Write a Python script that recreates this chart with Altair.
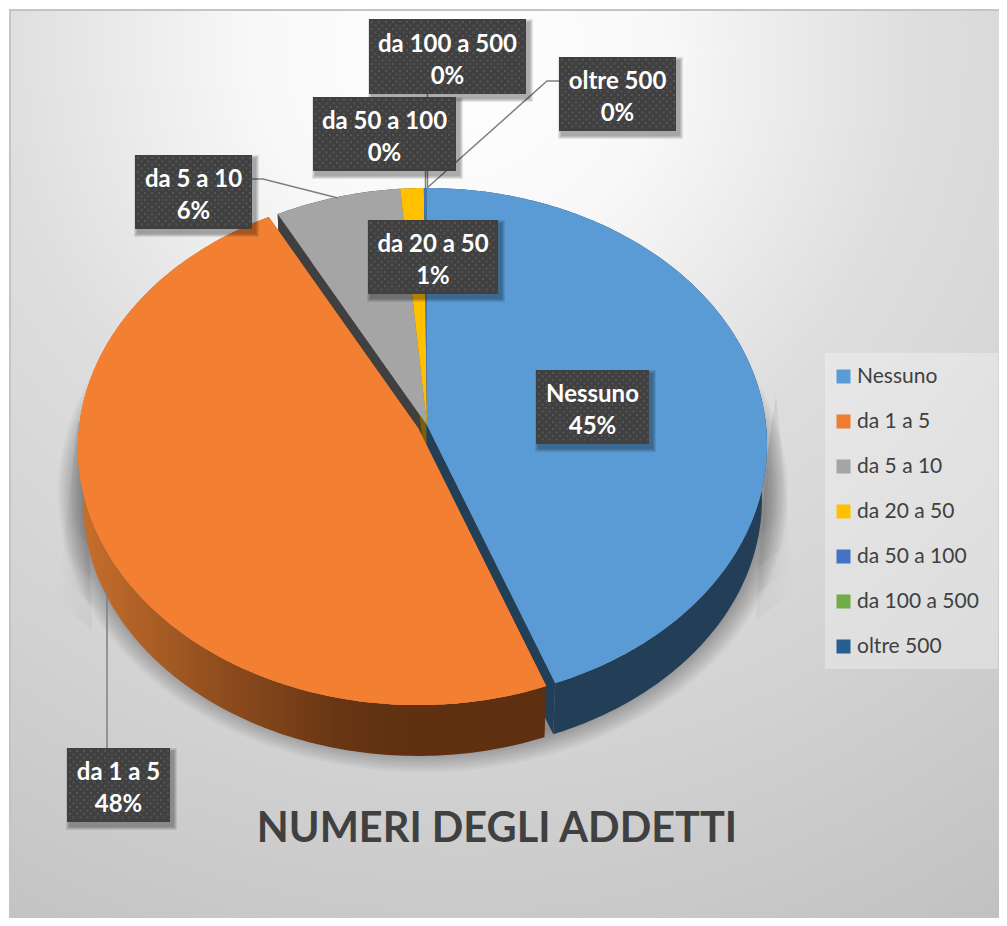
import math
import altair as alt

# --- chart values
categories = ["Nessuno", "da 1 a 5", "da 5 a 10", "da 20 a 50", "da 50 a 100", "da 100 a 500", "oltre 500"]
shares = [44.3, 47.9, 6.44, 1.2, 0.14, 0.01, 0.01]
legend_colors = ["#5B9BD5", "#ED7D31", "#A5A5A5", "#FFC000", "#4472C4", "#70AD47", "#255E91"]
wall_colors = ["#233F58", "#5F3110", "#404040", "#7F6000", "#2A4478", "#44692B", "#153A5A"]
percent_labels = ["45%", "48%", "6%", "1%", "0%", "0%", "0%"]
title_text = "NUMERI DEGLI ADDETTI"

# --- layout, in page pixels
FONT = "Lato"
AX, AY = 427, 425          # pie apex
RX, RY, TILT = 339, 255.5, 0.0779
DEPTH, BOTTOM_SCALE = 55, 0.985
EXPLODE = {"da 1 a 5": (-9, 3)}
boxes = {
    "Nessuno": (536, 370, 649, 444),
    "da 1 a 5": (67, 748, 170, 822),
    "da 5 a 10": (135, 155, 252, 229),
    "da 20 a 50": (368, 220, 498, 294),
    "da 50 a 100": (313, 97, 456, 171),
    "da 100 a 500": (369, 19, 526, 94),
    "oltre 500": (559, 57, 676, 131),
}
leaders = [
    [(559, 81), (547, 81), (427, 188)],
    [(252, 179), (263, 179), (338, 198)],
    [(425.5, 171), (425.5, 188)],
    [(427.5, 94), (427.5, 188)],
    [(107, 748), (107, 588)],
]


def feature(points, **props):
    ring = [list(p) for p in points]
    ring.append(ring[0])
    return {"type": "Feature", "geometry": {"type": "Polygon", "coordinates": [ring]}, "properties": props}


def line(points):
    return {"type": "Feature", "geometry": {"type": "LineString", "coordinates": [list(p) for p in points]}, "properties": {}}


def rel(theta):
    u, v = math.sin(theta), math.cos(theta)
    d = 1 + TILT * v
    return RX * u / d, -RY * v / d


def top(theta, dx=0, dy=0):
    x, y = rel(theta)
    return AX + dx + x, AY + dy + y


def bottom(theta, dx=0, dy=0):
    x, y = rel(theta)
    return AX + dx + BOTTOM_SCALE * x, AY + dy + DEPTH + BOTTOM_SCALE * y


top_faces, wall_faces = [], []
cum = 0.0
for name, share, wall in zip(categories, shares, wall_colors):
    t0 = cum / 100 * 2 * math.pi
    cum += share
    t1 = cum / 100 * 2 * math.pi
    n = max(2, int(share * 4))
    ts = [t0 + (t1 - t0) * i / n for i in range(n + 1)]
    dx, dy = EXPLODE.get(name, (0, 0))
    apex = (AX + dx, AY + dy)
    apex_b = (AX + dx, AY + dy + DEPTH)
    top_faces.append(feature([apex] + [top(t, dx, dy) for t in ts], name=name))
    walls = [
        [apex, top(t0, dx, dy), bottom(t0, dx, dy), apex_b],
        [apex, top(t1, dx, dy), bottom(t1, dx, dy), apex_b],
    ]
    for w in walls:
        wall_faces.append(feature(w, name=name, color=wall))
    wall_faces.append(feature([top(t, dx, dy) for t in ts] + [bottom(t, dx, dy) for t in reversed(ts)],
                              name=name, color=wall, rim=1))

circle = [i / 180 * math.pi for i in range(360)]
shadows = []
for i in range(1, 13):
    e = i / 12
    shadows.append(feature([(AX - 4 + (1 + (1 - e) * 0.08) * rel(t)[0],
                             AY + 46 + (1 + (1 - e) * 0.095) * rel(t)[1]) for t in circle]))

box_shadow = []
for (x0, y0, x1, y1) in boxes.values():
    for g in (4, 3, 2, 1):
        box_shadow.append(feature([(x0 + 3 - g, y0 + 4 - g), (x1 + 3 + g, y0 + 4 - g),
                                   (x1 + 3 + g, y1 + 4 + g), (x0 + 3 - g, y1 + 4 + g)]))

box_rows, dots, label_rows = [], [], []
for name, pct in zip(categories, percent_labels):
    x0, y0, x1, y1 = boxes[name]
    box_rows.append(feature([(x0, y0), (x1, y0), (x1, y1), (x0, y1)]))
    label_rows.append({"lon": (x0 + x1) / 2, "lat": (y0 + y1) / 2, "text": name + "\n" + pct})
    row = 0
    y = y0 + 3
    while y < y1 - 1:
        x = x0 + (3 if row % 2 == 0 else 6.5)
        while x < x1 - 1:
            dots.append({"lon": x, "lat": y})
            x += 7
        y += 3.5
        row += 1

P = dict(type="identity", scale=1, translate=[-8, -8])
frame = [(10, 10), (1030, 10), (1030, 950), (10, 950)]
legend_box = [(825, 353), (998, 353), (998, 669), (825, 669)]
# soft glow beside the pie: nested wedges that stop at different heights, so the lower end fades out
wedges_left = [[(78, 420), (57 + 21 * (600 - b) / 180, b), (92, b + 30), (84, 450)] for b in (600, 575, 550, 520)]
wedges_right = [[(768, 450), (776, 395), (776 + 19 * (b - 395) / 195, b), (756, b + 30)] for b in (590, 565, 540, 510)]

geo = lambda feats: alt.Data(values=feats)

background = alt.Chart(geo([feature(frame)])).mark_geoshape(
    fill={"gradient": "radial", "x1": 0.44, "y1": 0.08, "r1": 0.0, "x2": 0.44, "y2": 0.08, "r2": 1.0,
          "stops": [{"offset": 0, "color": "#ffffff"}, {"offset": 0.2, "color": "#f8f8f8"},
                    {"offset": 0.45, "color": "#dedede"}, {"offset": 0.7, "color": "#d2d2d2"},
                    {"offset": 1, "color": "#c1c1c1"}]},
    stroke="#c4c4c4", strokeWidth=2).project(**P)

wedge_l = alt.Chart(geo([feature(w) for w in wedges_left])).mark_geoshape(
    fill={"gradient": "linear", "x1": 0, "y1": 0, "x2": 1, "y2": 0,
          "stops": [{"offset": 0, "color": "rgba(0,0,0,0.0)"}, {"offset": 1, "color": "rgba(0,0,0,0.04)"}]},
    stroke=None).project(**P)
wedge_r = alt.Chart(geo([feature(w) for w in wedges_right])).mark_geoshape(
    fill={"gradient": "linear", "x1": 0, "y1": 0, "x2": 1, "y2": 0,
          "stops": [{"offset": 0, "color": "rgba(0,0,0,0.04)"}, {"offset": 1, "color": "rgba(0,0,0,0.0)"}]},
    stroke=None).project(**P)

shadow_layer = alt.Chart(geo(shadows)).mark_geoshape(fill="#000000", opacity=0.03, stroke=None).project(**P)

legend_bg = alt.Chart(geo([feature(legend_box)])).mark_geoshape(
    fill="#ffffff", fillOpacity=0.3, stroke=None).project(**P)

walls_other = alt.Chart(geo([f for f in wall_faces if f["properties"]["name"] != "da 1 a 5"])).mark_geoshape(
    stroke=None).encode(fill=alt.Fill("properties.color:N", scale=None)).project(**P)

walls_orange_flat = alt.Chart(geo([f for f in wall_faces if f["properties"]["name"] == "da 1 a 5" and "rim" not in f["properties"]])).mark_geoshape(
    fill="#5F3110", stroke=None).project(**P)

walls_orange = alt.Chart(geo([f for f in wall_faces if f["properties"]["name"] == "da 1 a 5" and "rim" in f["properties"]])).mark_geoshape(
    fill={"gradient": "linear", "x1": 0, "y1": 0, "x2": 1, "y2": 0,
          "stops": [{"offset": 0, "color": "#c8702d"}, {"offset": 0.27, "color": "#95501f"},
                    {"offset": 0.55, "color": "#693614"}, {"offset": 0.7, "color": "#5f3110"},
                    {"offset": 1, "color": "#5e2f10"}]},
    stroke=None).project(**P)

tops = alt.Chart(geo(top_faces)).mark_geoshape(stroke=None).encode(
    fill=alt.Fill("properties.name:N",
                  scale=alt.Scale(domain=categories, range=legend_colors),
                  sort=categories,
                  legend=alt.Legend(title=None, orient="none", legendX=825, legendY=358,
                                    symbolType="square", symbolSize=196, symbolStrokeWidth=0,
                                    labelFont=FONT, labelFontSize=21, labelColor="#404040",
                                    labelOffset=3, rowPadding=23, padding=0))
).project(**P)

orange_top = alt.Chart(geo([f for f in top_faces if f["properties"]["name"] == "da 1 a 5"])).mark_geoshape(
    fill="#F38032", stroke=None).project(**P)

lines = alt.Chart(geo([line(l) for l in leaders])).mark_geoshape(
    filled=False, stroke="#7f7f7f", strokeWidth=1.5).project(**P)

box_shadow_layer = alt.Chart(geo(box_shadow)).mark_geoshape(fill="#000000", opacity=0.09, stroke=None).project(**P)
box_layer = alt.Chart(geo(box_rows)).mark_geoshape(fill="#404040", stroke=None).project(**P)
dot_layer = alt.Chart(alt.Data(values=dots)).mark_square(size=4, color="#555555", opacity=1).encode(
    longitude="lon:Q", latitude="lat:Q").project(**P)
labels = alt.Chart(alt.Data(values=label_rows)).mark_text(
    font=FONT, fontWeight="bold", fontSize=24, color="#ffffff", lineBreak="\n", lineHeight=32, baseline="middle", dy=-12
).encode(longitude="lon:Q", latitude="lat:Q", text="text:N").project(**P)
title = alt.Chart(alt.Data(values=[{"lon": 497, "lat": 830, "text": title_text}])).mark_text(
    font=FONT, fontWeight="bold", fontSize=41.5, color="#404040", baseline="middle"
).encode(longitude="lon:Q", latitude="lat:Q", text="text:N").project(**P)

chart = alt.layer(background, legend_bg, wedge_l, wedge_r, shadow_layer, walls_other, walls_orange_flat, walls_orange,
                  tops, orange_top, lines, box_shadow_layer, box_layer, dot_layer, labels, title
                  ).resolve_scale(fill="independent").properties(
    width=991, height=910, padding=0, autosize=alt.AutoSizeParams(type="none")
).configure_view(stroke=None)

chart.save("out.html", embed_options={"renderer": "svg", "actions": False})
